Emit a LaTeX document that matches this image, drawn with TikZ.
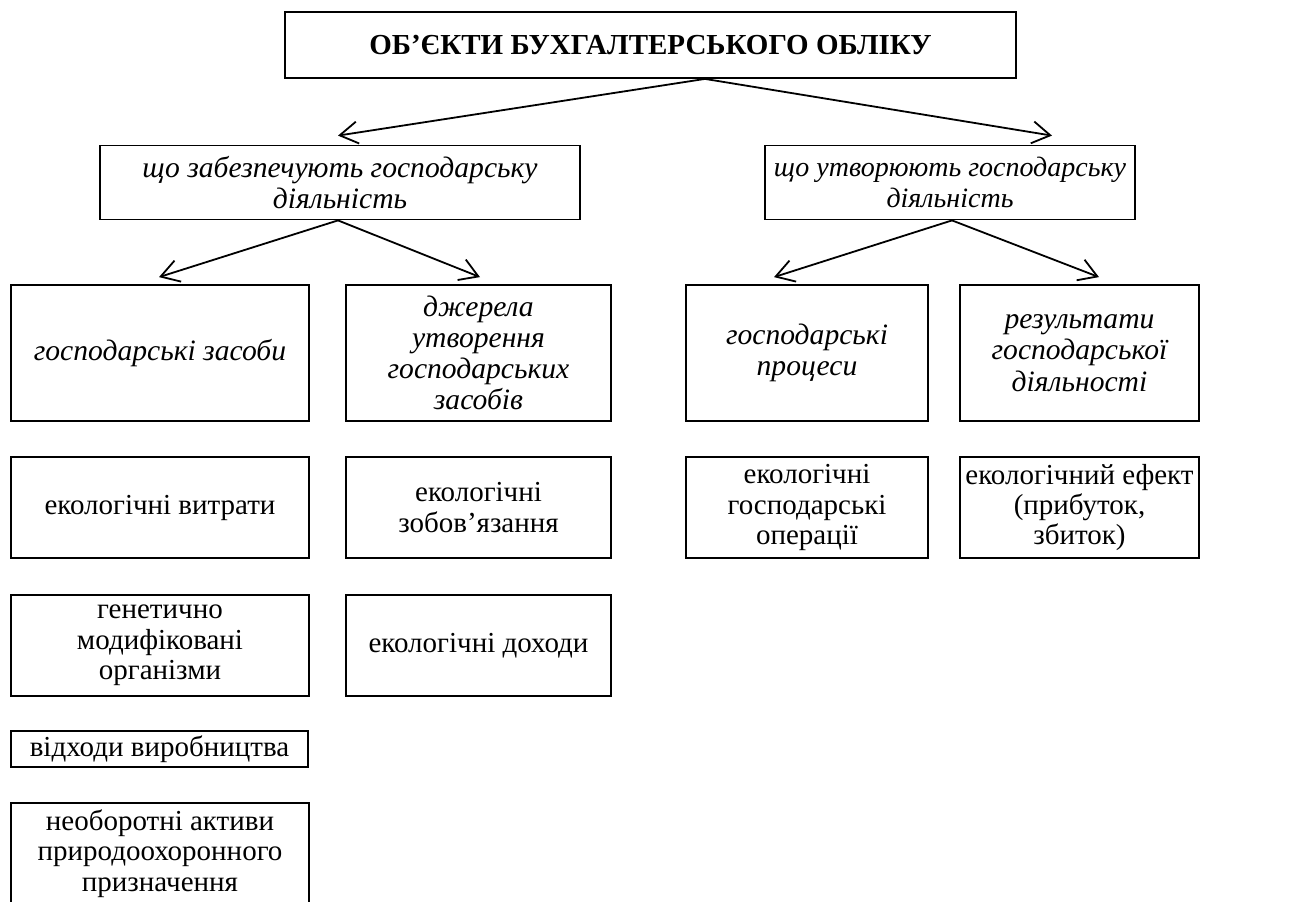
\documentclass[tikz,border=0pt]{standalone}
\usepackage{fontspec}
\setmainfont{Liberation Serif}
\usetikzlibrary{calc,arrows.meta}

\begin{document}
\begin{tikzpicture}[x=0.5pt,y=-0.5pt,
    box/.style={draw,line width=0.9pt,align=center,inner sep=0pt,
      font=\fontsize{14.5}{15.2}\selectfont},
    ibox/.style={box,font=\fontsize{14.8}{15.6}\selectfont\itshape},
    arr/.style={line width=0.9pt,-{Straight Barb[length=9pt,width=11pt]}}]
  \useasboundingbox (0,0) rectangle (1292,901);
  \clip (0,0) rectangle (1292,901);
  % top
  \node[box,font=\fontsize{14.5}{15}\selectfont\bfseries,
    minimum width=365.5pt,minimum height=33pt] (obj) at (650.5,45)
    {ОБ’ЄКТИ БУХГАЛТЕРСЬКОГО ОБЛІКУ};
  % second level
  \node[ibox,minimum width=240pt,minimum height=37pt] (zab) at (340,182.5)
    {що забезпечують господарську\\ діяльність};
  \node[ibox,font=\fontsize{14}{15.6}\selectfont\itshape,
    minimum width=185pt,minimum height=37pt] (utv) at (950,182.5)
    {що утворюють господарську\\ діяльність};
  % third level
  \node[ibox,minimum width=149pt,minimum height=68pt] (zasoby) at (160,353)
    {господарські засоби};
  \node[ibox,minimum width=132.5pt,minimum height=68pt] (dzherela) at (478.5,353)
    {джерела\\ утворення\\ господарських\\ засобів};
  \node[ibox,minimum width=121pt,minimum height=68pt] (procesy) at (807,353)
    {господарські\\ процеси};
  \node[ibox,minimum width=119.5pt,minimum height=68pt] (rezult) at (1079.5,353)
    {результати\\ господарської\\ діяльності};
  % ecological items
  \node[box,minimum width=149pt,minimum height=50.5pt] (vytraty) at (160,507.5)
    {екологічні витрати};
  \node[box,minimum width=132.5pt,minimum height=50.5pt] (zobov) at (478.5,507.5)
    {екологічні\\ зобов’язання};
  \node[box,minimum width=121pt,minimum height=50.5pt] (operacii) at (807,507.5)
    {екологічні\\ господарські\\ операції};
  \node[box,minimum width=119.5pt,minimum height=50.5pt] (efekt) at (1079.5,507.5)
    {екологічний ефект\\ (прибуток,\\ збиток)};
  \node[box,minimum width=149pt,minimum height=50.5pt] (gmo) at (160,645.5)
    {генетично\\ модифіковані\\ організми};
  \node[box,minimum width=132.5pt,minimum height=50.5pt] (dohody) at (478.5,645.5)
    {екологічні доходи};
  \node[box,minimum width=148.5pt,minimum height=18pt] (vidhody) at (159.5,749)
    {відходи виробництва};
  \node[box,minimum width=149pt,minimum height=50.5pt] (aktyvy) at (160,853.5)
    {необоротні активи\\ природоохоронного\\ призначення};
  % arrows
  \draw[arr] ($(obj.south)+(54.5,0)$) -- ($(zab.north)+(-2,-9)$);
  \draw[arr] ($(obj.south)+(54.5,0)$) -- ($(utv.north)+(102,-9)$);
  \draw[arr] ($(zab.south)+(-2,0)$) -- ($(zasoby.north)+(-1,-7)$);
  \draw[arr] ($(zab.south)+(-2,0)$) -- ($(dzherela.north)+(1.5,-7)$);
  \draw[arr] ($(utv.south)+(2,0)$) -- ($(procesy.north)+(-33,-7)$);
  \draw[arr] ($(utv.south)+(2,0)$) -- ($(rezult.north)+(19.5,-7)$);
\end{tikzpicture}
\end{document}
